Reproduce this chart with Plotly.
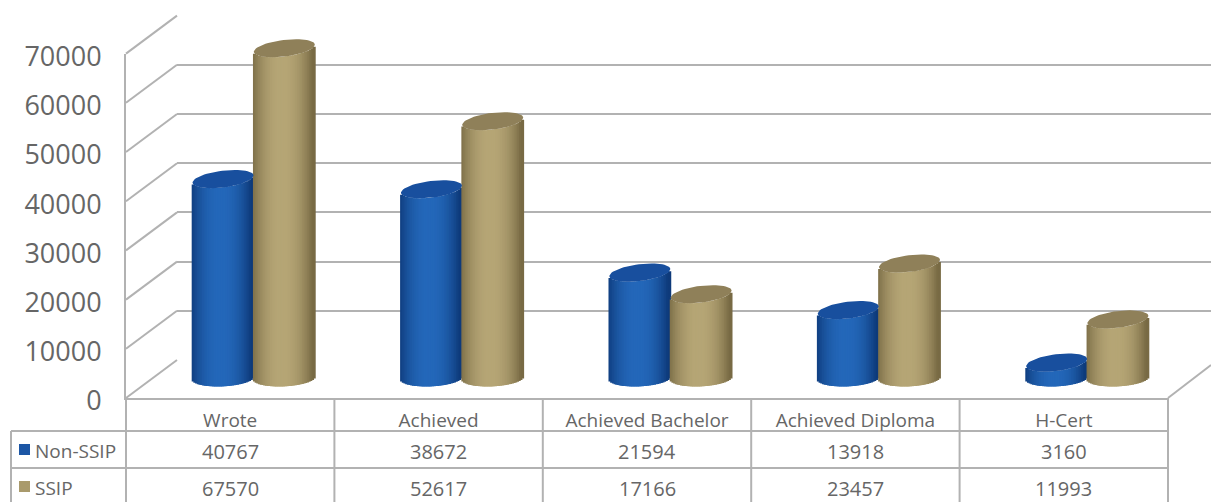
import numpy as np
import plotly.graph_objects as go

categories = ["Wrote", "Achieved", "Achieved Bachelor", "Achieved Diploma", "H-Cert"]
non_ssip = [40767, 38672, 21594, 13918, 3160]
ssip = [67570, 52617, 17166, 23457, 11993]
y_ticks = [0, 10000, 20000, 30000, 40000, 50000, 60000, 70000]

W, H = 1211, 502
GREY = "#b2b2b2"
TEXT = "#666666"
FONT = "Open Sans"
UNITS_PER_PX = 10000 / 48.8
X_PER_PX = 5 / 1041


def px(x):
    return x / W


def py(y):
    return 1 - y / H


def mix(a, b, t):
    return "rgb(%d,%d,%d)" % tuple(a[i] + (b[i] - a[i]) * t for i in range(3))


def add_cylinders(fig, values, shift, edge, mid, cap):
    """Cylinders: a fan of thin bars for the shading, a filled ellipse for the lid."""
    rx = 30.5 * X_PER_PX
    ry = 8.4 * UNITS_PER_PX
    n = 36
    us = (np.arange(n) + 0.5) / n * 2 - 1
    xs, tops, bases, colors = [], [], [], []
    for i, v in enumerate(values):
        for u in us:
            curve = np.sqrt(1 - u * u)
            xs.append(i + shift + u * rx)
            base = (-curve * ry) + u * 1.5 * UNITS_PER_PX
            top = v - curve * ry + u * 3.5 * UNITS_PER_PX
            bases.append(base)
            tops.append(top - base)
            colors.append(mix(mid, edge, min(1, abs(u + 0.05) ** 2.2)))
    fig.add_trace(go.Bar(x=xs, y=tops, base=bases, width=2 * rx / n * 2,
                         marker=dict(color=colors, line_width=0), hoverinfo="skip",
                         xaxis="x3", yaxis="y3", showlegend=False))
    t = np.linspace(0, 2 * np.pi, 60)
    lx, ly = [], []
    for i, v in enumerate(values):
        lx += list(i + shift + rx * np.cos(t)) + [None]
        ly += list(v + ry * np.sin(t) + 3.5 * UNITS_PER_PX * np.cos(t)) + [None]
    fig.add_trace(go.Scatter(x=lx, y=ly, mode="lines", fill="toself", fillcolor=cap,
                             line=dict(width=0, color=cap), hoverinfo="skip",
                             xaxis="x3", yaxis="y3", showlegend=False))


fig = go.Figure()

# empty traces so the front and back-wall axes get drawn
fig.add_trace(go.Scatter(x=[0], y=[0], mode="none", xaxis="x", yaxis="y", showlegend=False, hoverinfo="skip"))
fig.add_trace(go.Scatter(x=[0], y=[0], mode="none", xaxis="x2", yaxis="y2", showlegend=False, hoverinfo="skip"))

add_cylinders(fig, non_ssip, -0.147, (14, 58, 122), (36, 104, 186), "#184f9e")
add_cylinders(fig, ssip, 0.147, (120, 106, 68), (182, 166, 118), "#8f8059")

shapes = []


def line(x0, y0, x1, y1):
    shapes.append(dict(type="line", xref="paper", yref="paper", x0=px(x0), y0=py(y0), x1=px(x1), y1=py(y1),
                       line=dict(color=GREY, width=2), layer="below"))


# side wall diagonals
for t in y_ticks:
    yf = 398 - t / 10000 * 49.2
    line(126, yf, 177, yf - 38)
line(1168, 398, 1211, 365)

# data table rules
for y in (431, 468):
    line(11, y, 1168, y)
line(11, 431, 11, 502)
line(126, 398, 126, 502)
for i in range(1, 6):
    x = 126 + i * 208.4
    line(x, 398, x, 502)

annotations = []
rows = [("Non-SSIP", non_ssip, "#1c56a5", 451), ("SSIP", ssip, "#a99a6c", 488)]
for name, values, color, y in rows:
    shapes.append(dict(type="rect", xref="paper", yref="paper", x0=px(19), x1=px(30), y0=py(y - 7), y1=py(y + 4),
                       fillcolor=color, line_width=0))
    annotations.append(dict(xref="paper", yref="paper", x=px(33), y=py(y), xanchor="left", yanchor="middle",
                            showarrow=False, font=dict(family=FONT, size=19, color=TEXT), text=name))
    for i, v in enumerate(values):
        annotations.append(dict(xref="x", yref="paper", x=i, y=py(y), yanchor="middle", showarrow=False,
                                font=dict(family=FONT, size=20, color=TEXT), text=str(v)))

fig.update_layout(
    width=W,
    height=H,
    margin=dict(l=0, r=0, t=0, b=0),
    paper_bgcolor="white",
    plot_bgcolor="rgba(0,0,0,0)",
    barmode="overlay",
    shapes=shapes,
    annotations=annotations,
    xaxis=dict(domain=[px(126), px(1168)], range=[-0.5, 4.5], tickmode="array", automargin=False,
               tickvals=list(range(5)), ticktext=categories, showgrid=False, zeroline=False,
               showline=True, linecolor=GREY, linewidth=2, ticklabelstandoff=4,
               tickfont=dict(family=FONT, size=19, color=TEXT)),
    yaxis=dict(domain=[py(398), py(53.6)], range=[0, 70000], tickmode="array", tickvals=y_ticks,
               ticktext=[str(t) for t in y_ticks], automargin=False,
               showgrid=False, zeroline=False, showline=True, linecolor=GREY, linewidth=2,
               ticklabelstandoff=17, ticklabelshift=3, tickfont=dict(family=FONT, size=27, color=TEXT)),
    xaxis2=dict(domain=[px(177), 1], range=[0, 1], visible=False, anchor="y2", automargin=False),
    yaxis2=dict(domain=[py(360), py(15.6)], range=[0, 70000], tickmode="array", tickvals=y_ticks,
                showgrid=True, gridcolor=GREY, gridwidth=2, zeroline=False, showticklabels=False,
                anchor="x2", automargin=False),
    xaxis3=dict(domain=[px(149.5), px(1191.5)], range=[-0.5, 4.5], visible=False, anchor="y3", automargin=False),
    yaxis3=dict(domain=[py(378 + 3000 / UNITS_PER_PX), py(378 - 70000 / UNITS_PER_PX)], range=[-3000, 70000],
                visible=False, anchor="x3", automargin=False),
)

fig.write_html("out.html", config={"displayModeBar": False}, post_script="document.body.style.margin='0';")
